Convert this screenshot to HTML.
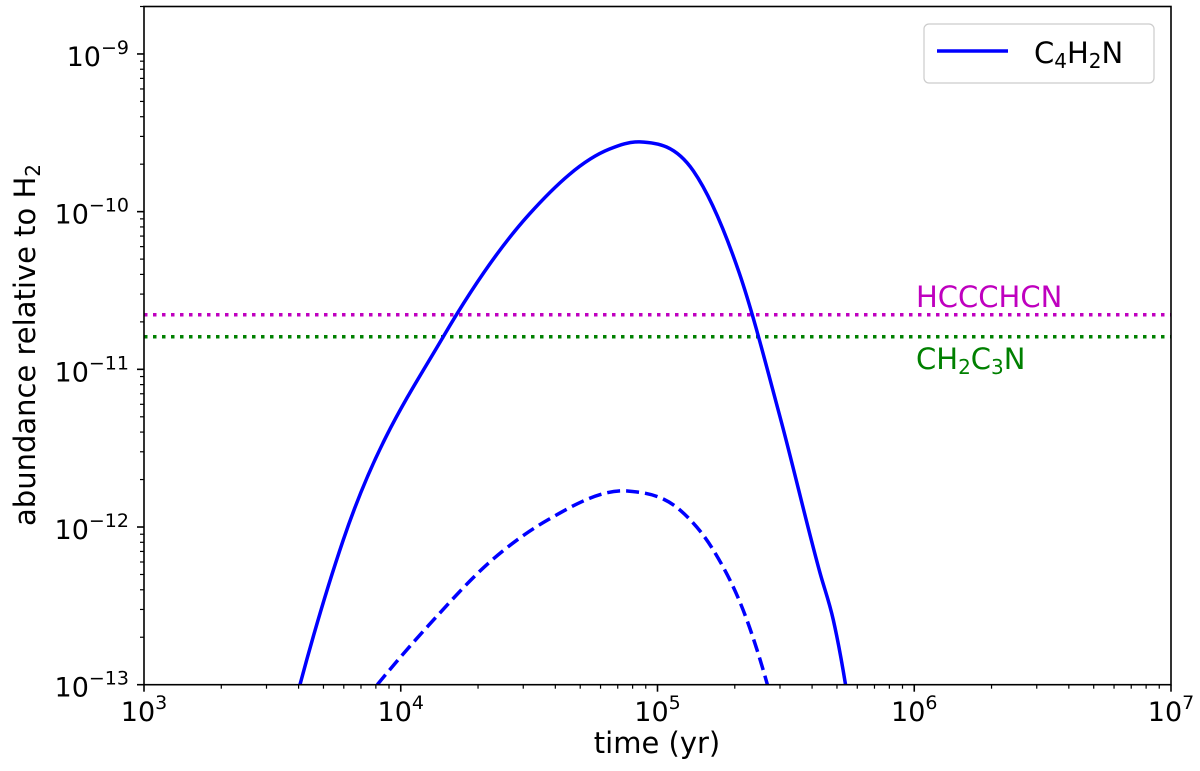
<!DOCTYPE html>
<html><head><meta charset="utf-8"><style>
body{margin:0;background:#fff}
svg{display:block;font-family:"DejaVu Sans","Liberation Sans",sans-serif}
</style></head><body>
<svg id="chart" width="1200" height="771" viewBox="0 0 1200 771" xmlns="http://www.w3.org/2000/svg">
<g id="marks"></g>
<g id="axes"></g>
<rect x="144" y="6.5" width="1027" height="678.2" fill="none" stroke="#000" stroke-width="1.6"/>
<g>
<rect x="924" y="24" width="230" height="59" rx="5" fill="#fff" stroke="#ccc" stroke-width="1.2"/>
<line x1="937" y1="51" x2="1008" y2="51" stroke="#0000ff" stroke-width="3.5"/>
<text x="1034" y="63" font-size="29">C<tspan font-size="20" dy="5">4</tspan><tspan dy="-5">H</tspan><tspan font-size="20" dy="5">2</tspan><tspan dy="-5">N</tspan></text>
</g>
<text x="916" y="307" font-size="29" fill="#bf00bf">HCCCHCN</text>
<text x="916" y="369" font-size="29" fill="#008000">CH<tspan font-size="20" dy="5">2</tspan><tspan dy="-5">C</tspan><tspan font-size="20" dy="5">3</tspan><tspan dy="-5">N</tspan></text>
<text x="657" y="753" font-size="29" text-anchor="middle">time (yr)</text>
<text transform="translate(35,345) rotate(-90)" font-size="29" text-anchor="middle">abundance relative to H<tspan font-size="20" dy="5">2</tspan></text>
</svg>
<script>
const solidT=[4.05e3,5.97e3,1.464e4,3.16e4,6.49e4,8.53e4,1.38e5,2.08e5,3.00e5,4.30e5,4.84e5,5.40e5];
const solidA=[1.0e-13,8.27e-13,1.61e-11,9.6e-11,2.49e-10,2.77e-10,1.81e-10,4.1e-11,5.0e-12,5.08e-13,2.57e-13,1.0e-13];
const dashT=[8.10e3,1.34e4,2.23e4,3.74e4,7.71e4,1.224e5,1.65e5,2.23e5,2.68e5];
const dashA=[1.0e-13,2.57e-13,6.03e-13,1.11e-12,1.69e-12,1.28e-12,7.14e-13,2.57e-13,1.0e-13];
const hccchcnLevel=2.22e-11;
const ch2c3nLevel=1.61e-11;
const xTickExps=[3,4,5,6,7];
const yTickExps=[-13,-12,-11,-10,-9];

const NS="http://www.w3.org/2000/svg";
const X0=144,X1=1171,Y0=684.7,Y1=6.5;
const xs=t=>X0+(Math.log10(t)-3)/4*(X1-X0);
const ys=a=>Y0-(Math.log10(a)+13)/(Math.log10(2e-9)+13)*(Y0-Y1);
const marks=document.getElementById('marks'),axes=document.getElementById('axes');
function mk(tag,attrs,parent){const e=document.createElementNS(NS,tag);for(const k in attrs)e.setAttribute(k,attrs[k]);parent.appendChild(e);return e;}
function smooth(T,A){
  const p=T.map((t,i)=>[xs(t),ys(A[i])]);
  const n=p.length,s=[],h=[],m=[];
  for(let i=0;i<n-1;i++){h.push(p[i+1][0]-p[i][0]);s.push((p[i+1][1]-p[i][1])/h[i]);}
  for(let i=1;i<n-1;i++)m[i]=(s[i-1]*h[i]+s[i]*h[i-1])/(h[i-1]+h[i]);
  m[0]=s[0]+(s[0]-s[1])*h[0]/(h[0]+h[1]);
  m[n-1]=s[n-2]+(s[n-2]-s[n-3])*h[n-2]/(h[n-2]+h[n-3]);
  let d=`M${p[0][0]},${p[0][1]}`;
  for(let i=0;i<n-1;i++){
    const b=p[i],c=p[i+1],dx=h[i]/3;
    d+=` C${b[0]+dx},${b[1]+m[i]*dx} ${c[0]-dx},${c[1]-m[i+1]*dx} ${c[0]},${c[1]}`;
  }
  return d;
}
const clip=mk('clipPath',{id:'pc'},marks);mk('rect',{x:X0,y:Y1,width:X1-X0,height:Y0-Y1},clip);
const g=mk('g',{'clip-path':'url(#pc)'},marks);
let e;
e=mk('line',{x1:X0,x2:X1,y1:ys(hccchcnLevel),y2:ys(hccchcnLevel),stroke:'#bf00bf','stroke-width':3.5,'stroke-dasharray':'3.5 5.5'},g);


e=mk('line',{x1:X0,x2:X1,y1:ys(ch2c3nLevel),y2:ys(ch2c3nLevel),stroke:'#008000','stroke-width':3.5,'stroke-dasharray':'3.5 5.5'},g);


e=mk('path',{d:smooth(solidT,solidA),fill:'none',stroke:'#0000ff','stroke-width':3.5,'stroke-linejoin':'round'},g);


e=mk('path',{d:smooth(dashT,dashA),fill:'none',stroke:'#0000ff','stroke-width':3.5,'stroke-dasharray':'13 6'},g);



xTickExps.forEach((ex,i)=>{
  const x=xs(Math.pow(10,ex));
  e=mk('line',{x1:x,x2:x,y1:Y0,y2:Y0+7,stroke:'#000','stroke-width':1.6},axes);
  
  
  const t=mk('text',{x:x,y:721,'font-size':27,'text-anchor':'middle'},axes);
  
  
  t.innerHTML=`10<tspan font-size="19" dy="-12">${ex}</tspan>`;
  if(i<xTickExps.length-1)for(let m=2;m<10;m++){
    const xm=xs(m*Math.pow(10,ex));
    e=mk('line',{x1:xm,x2:xm,y1:Y0,y2:Y0+4,stroke:'#000','stroke-width':1.2},axes);
    
    
  }
});
yTickExps.forEach(ex=>{
  const y=ys(Math.pow(10,ex));
  e=mk('line',{x1:X0-7,x2:X0,y1:y,y2:y,stroke:'#000','stroke-width':1.6},axes);
  
  
  const t=mk('text',{x:129,y:y+12,'font-size':27,'text-anchor':'end'},axes);
  
  
  t.innerHTML=`10<tspan font-size="19" dy="-12">−${-ex}</tspan>`;
  for(let m=2;m<10;m++){
    const v=m*Math.pow(10,ex);
    if(v>2e-9)break;
    const ym=ys(v);
    e=mk('line',{x1:X0-4,x2:X0,y1:ym,y2:ym,stroke:'#000','stroke-width':1.2},axes);
    
    
  }
});
</script>
</body></html>
